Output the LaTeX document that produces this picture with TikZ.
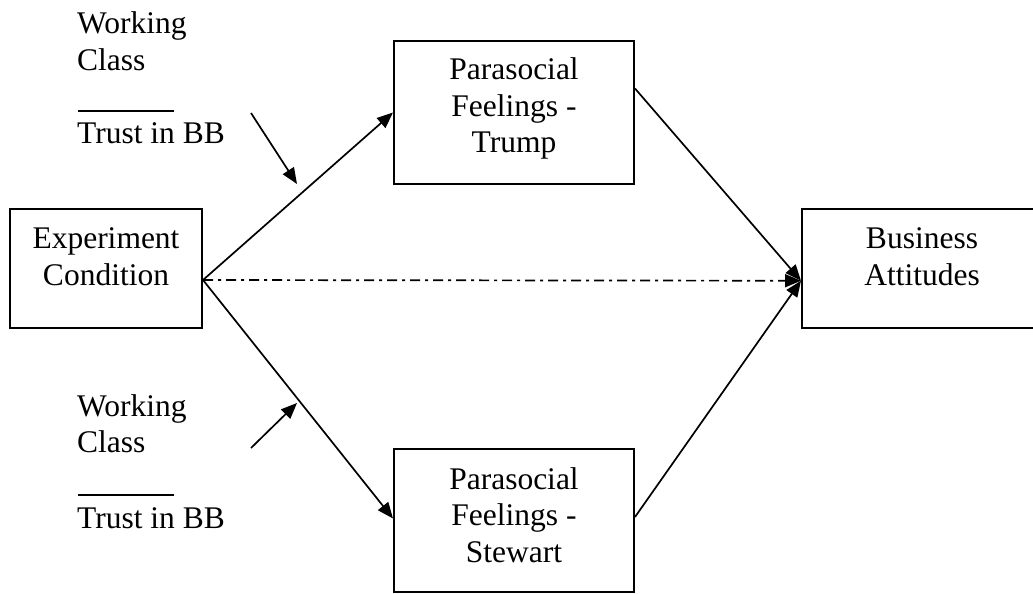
\documentclass[tikz,border=0pt]{standalone}
\usepackage{fontspec}
\setmainfont{Liberation Serif}
\usetikzlibrary{arrows.meta,calc}
\newcommand\cstack[1]{\begin{tabular}[t]{@{}c@{}}#1\end{tabular}}
\newcommand\lstack[1]{\begin{tabular}[t]{@{}l@{}}#1\end{tabular}}
\tikzset{
  box/.style={draw, line width=2bp, inner xsep=0pt, inner ysep=0pt, anchor=base, minimum width=240bp},
  conn/.style={line width=1.7bp, -{Triangle[length=16bp,width=13bp]}},
  dashdotline/.style={dash pattern=on 10bp off 5bp on 3bp off 5bp},
  lbl/.style={inner sep=0pt, anchor=base west},
  bar/.style={line width=2bp}
}
\begin{document}
\begin{tikzpicture}[x=1bp, y=-1bp, font=\fontsize{31.5bp}{36.5bp}\selectfont]
\useasboundingbox (0,0) rectangle (1033,594);
\clip (0,0) rectangle (1033,594);

% boxes
\node[box, minimum width=192bp, text height=40bp, text depth=79bp] (exp) at (106,249) {\cstack{Experiment\\Condition}};
\node[box, text height=39bp, text depth=104bp] (trump) at (514,80) {\cstack{Parasocial\\Feelings -\\Trump}};
\node[box, text height=40bp, text depth=103bp] (stew) at (514,489) {\cstack{Parasocial\\Feelings -\\Stewart}};
\node[box, text height=40bp, text depth=78.5bp] (bus) at (922,249) {\cstack{Business\\Attitudes}};

% moderator labels
\node[lbl] (wc1) at (77,34) {\lstack{Working\\Class}};
\node[lbl] (tb1) at (77,144) {Trust in BB};
\node[lbl] (wc2) at (77,416) {\lstack{Working\\Class}};
\node[lbl] (tb2) at (77,528) {Trust in BB};
\draw[bar] (78,111) -- (174,111);
\draw[bar] (78,495) -- (174,495);

% connection points
\coordinate (expout) at ($(exp.east)+(0,11.5)$);
\coordinate (busin) at ($(bus.west)+(0,12.5)$);
\coordinate (trumpout) at ($(trump.east)+(0,-24)$);
\coordinate (stewout) at ($(stew.east)+(0,-3.5)$);
\coordinate (stewin) at ($(stew.west)+(0,-2)$);
\coordinate (m1s) at (251,113);
\coordinate (m1e) at (297,184);
\coordinate (m2s) at (251,448);
\coordinate (m2e) at (297,403);

% connectors
\draw[conn] (expout) -- (trump.west);
\draw[conn] (expout) -- (stewin);
\draw[conn] (trumpout) -- (busin);
\draw[conn] (stewout) -- (busin);
\draw[conn, dashdotline] (expout) -- (busin);
\draw[conn] (m1s) -- (m1e);
\draw[conn] (m2s) -- (m2e);
\end{tikzpicture}
\end{document}
